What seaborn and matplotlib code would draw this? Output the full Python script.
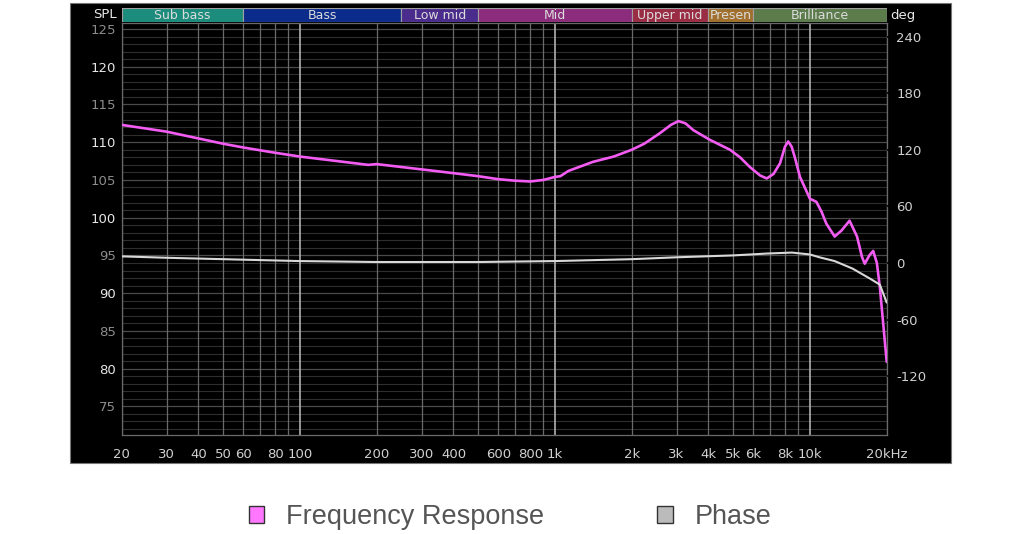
import numpy as np
import pandas as pd
import matplotlib
matplotlib.use("Agg")
import matplotlib.pyplot as plt
import seaborn as sns
from matplotlib.patches import Patch, Rectangle

# frequency response
fr_freq = [20, 30, 40, 50, 60, 80, 100, 148, 185, 200, 300, 400, 500, 600, 700, 800, 900,
           1000, 1050, 1130, 1410, 1700, 2000, 2240, 2580, 2850, 3050, 3250, 3490, 4060, 4860,
           5320, 5820, 6370, 6770, 7200, 7630, 7980, 8220, 8480, 8740, 9140, 10000, 10600,
           11100, 11600, 12500, 13300, 14300, 15300, 16000, 16400, 17100, 17700, 18300, 18800, 20000]
fr_spl = [112.3, 111.4, 110.5, 109.8, 109.3, 108.6, 108.1, 107.4, 107.0, 107.1, 106.4,
          105.9, 105.5, 105.1, 104.9, 104.8, 105.0, 105.4, 105.5, 106.2, 107.4, 108.1, 109.0,
          109.8, 111.2, 112.3, 112.8, 112.5, 111.6, 110.3, 109.0, 108.0, 106.7, 105.6, 105.2,
          105.8, 107.2, 109.4, 110.1, 109.4, 107.9, 105.4, 102.5, 102.1, 100.8, 99.2, 97.5,
          98.3, 99.6, 97.5, 94.8, 93.9, 95.0, 95.6, 94.0, 90.8, 80.9]

# phase in degrees
ph_freq = [20, 30, 50, 100, 200, 500, 1000, 2000, 3000, 5000, 6800, 8500, 10000,
           10900, 12500, 14700, 17300, 18800, 20000]
ph_deg = [7, 5.5, 4, 2, 1, 1, 2, 4, 6, 8, 10, 11, 9, 6, 2, -6, -17, -23, -42]

# frequency bands
band_names = ["Sub bass", "Bass", "Low mid", "Mid", "Upper mid", "Presen", "Brilliance"]
band_edges = [20, 60, 250, 500, 2000, 4000, 6000, 20000]
band_colors = ["#1c8c7c", "#0c2c8c", "#4a2c8c", "#8c2c7c", "#9a2c44", "#a0702c", "#5c7c4c"]

x_ticks = [20, 30, 40, 50, 60, 80, 100, 200, 300, 400, 600, 800, 1000,
           2000, 3000, 4000, 5000, 6000, 8000, 10000, 20000]
x_labels = ["20", "30", "40", "50", "60", "80", "100", "200", "300", "400", "600", "800", "1k",
            "2k", "3k", "4k", "5k", "6k", "8k", "10k", "20kHz"]
x_minor = [70, 90, 500, 700, 900, 7000, 9000]
spl_ticks = [75, 80, 85, 90, 95, 100, 105, 110, 115, 120, 125]
deg_ticks = [-120, -60, 0, 60, 120, 180, 240]

sns.set_style("dark")
plt.rcParams['font.family'] = ['DejaVu Sans']
plt.rcParams['axes.unicode_minus'] = False

W, H = 1020, 534
fig = plt.figure(figsize=(W / 100, H / 100), dpi=100)
fig.patch.set_facecolor("white")

# black panel behind everything
fig.patches.append(Rectangle((70 / W, 1 - 463 / H), 881 / W, 460 / H, transform=fig.transFigure,
                             facecolor="black", edgecolor="#777777", lw=0.8, zorder=-10))

ax = fig.add_axes([121.7 / W, 1 - 435 / H, 765 / W, 412 / H])
ax.set_facecolor("black")
ax.set_xscale("log")
ax.set_ylim(71.2, 125.8)

fr = pd.DataFrame({"freq": fr_freq, "spl": fr_spl})
sns.lineplot(data=fr, x="freq", y="spl", ax=ax, color="#f25cf2", lw=1.9, zorder=5,
             solid_joinstyle="round", solid_capstyle="round")
ax.set_xlabel("")
ax.set_ylabel("")

# phase on right axis (0 deg sits at 94 dB, 60 deg per 7.5 dB)
ax2 = ax.twinx()
ax2.set_ylim((71.2 - 94) * 8, (125.8 - 94) * 8)
ph = pd.DataFrame({"freq": ph_freq, "deg": ph_deg})
sns.lineplot(data=ph, x="freq", y="deg", ax=ax2, color="#d8d8d8", lw=1.5, zorder=4,
             solid_joinstyle="round")
ax2.set_ylabel("")
ax2.set_yticks(deg_ticks)
ax2.grid(False)
ax2.patch.set_alpha(0)
ax2.tick_params(axis="y", length=5, width=1.2, color="black", pad=2, labelsize=9.5, labelcolor="#d0d0d0")
ax2.yaxis.get_major_ticks()[deg_ticks.index(0)].tick2line.set_color("#c08020")
for s in ax2.spines.values():
    s.set_visible(False)

# x axis set up after twinx so the log locators don't override it
ax.set_xlim(20, 20000)
ax.set_xticks(x_ticks)
ax.set_xticklabels(x_labels)
ax.set_xticks(x_minor, minor=True)
ax.set_yticks(spl_ticks)
ax.set_yticks(np.arange(72, 126, 1), minor=True)

ax.grid(which="major", axis="x", color="#6a6a6a", lw=0.9)
ax.grid(which="minor", axis="x", color="#6a6a6a", lw=0.9)
for f, gl in zip(x_ticks, ax.get_xgridlines()):
    if f in (100, 1000, 10000):
        gl.set_color("#b0b0b0")
        gl.set_linewidth(1.2)
ax.grid(which="major", axis="y", color="#4a4a4a", lw=0.9)
ax.grid(which="minor", axis="y", color="#2e2e2e", lw=0.8)
# vertical grid drawn over the horizontal one
ax.set_axisbelow(True)
ax.yaxis.set_zorder(0.4)
ax.xaxis.set_zorder(0.6)

ax.tick_params(which="both", length=0)
ax.tick_params(axis="x", pad=9, labelsize=9.5, labelcolor="#d0d0d0")
ax.tick_params(axis="y", pad=4, labelsize=9.5)
for v, lbl in zip(spl_ticks, ax.get_yticklabels()):
    lbl.set_color("#e6e6e6" if v % 10 == 0 else "#8c8c8c")
for s in ax.spines.values():
    s.set_color("#6a6a6a")
    s.set_linewidth(0.9)

# frequency band strip
bx = fig.add_axes([121.7 / W, 1 - 22 / H, 765 / W, 14 / H])
bx.set_xscale("log")
bx.set_xlim(20, 20000)
bx.set_ylim(0, 1)
for name, lo, hi, c in zip(band_names, band_edges[:-1], band_edges[1:], band_colors):
    bx.axvspan(lo, hi, color=c, ec="#a0a0a0", lw=0.8)
    bx.text(np.sqrt(lo * hi), 0.45, name, ha="center", va="center", fontsize=9, color="#dcdcdc")
bx.set_xticks([])
bx.set_yticks([])
bx.minorticks_off()
for s in bx.spines.values():
    s.set_visible(False)

fig.text(117 / W, 1 - 15 / H, "SPL", ha="right", va="center", fontsize=9.5, color="#e8e8e8")
fig.text(890 / W, 1 - 15 / H, "deg", ha="left", va="center", fontsize=9.5, color="#e8e8e8")

handles = [Patch(facecolor="#ff77ff", edgecolor="#333333", lw=1.0),
           Patch(facecolor="#bbbbbb", edgecolor="#333333", lw=1.0)]
fig.legend(handles, ["Frequency Response", "Phase"], loc="center", bbox_to_anchor=(0.5, 1 - 517 / H),
           ncol=2, frameon=False, prop={"family": "Liberation Sans", "size": 19.5}, labelcolor="#555555",
           handlelength=0.56, handleheight=0.56, handletextpad=0.8, columnspacing=4.2)

fig.savefig("out.png", dpi=100)
